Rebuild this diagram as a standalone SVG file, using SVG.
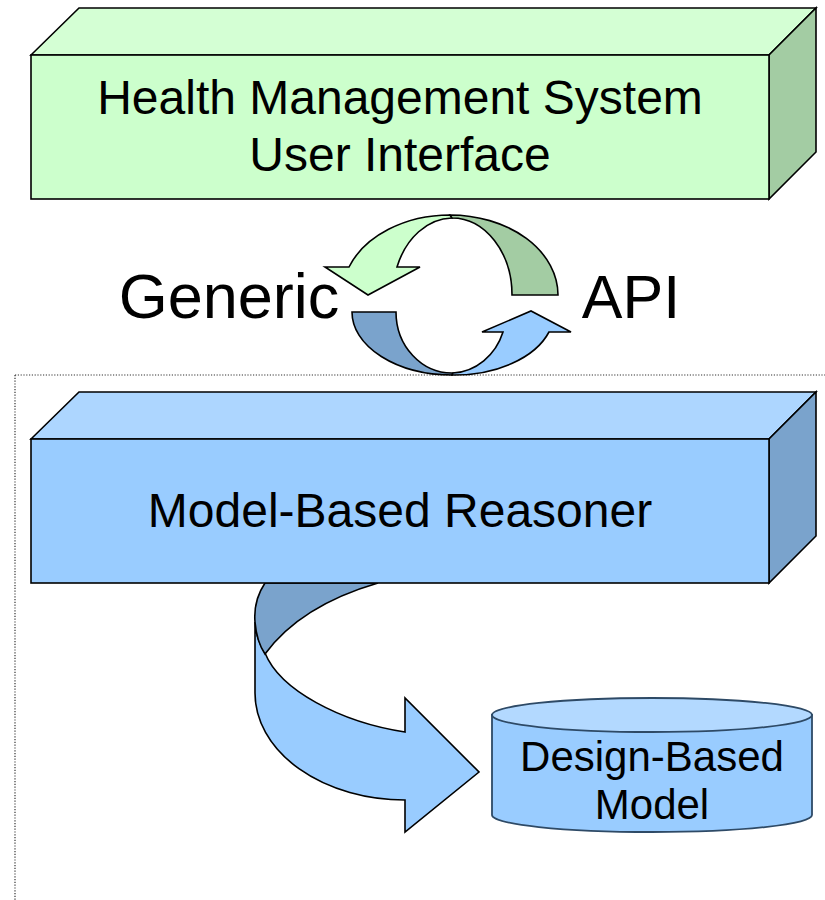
<svg xmlns="http://www.w3.org/2000/svg" width="825" height="900" viewBox="0 0 825 900">
  <style>
    .edge { stroke: #000; stroke-width: 1.6; stroke-linejoin: miter; }
    .label { font-family: "Liberation Sans", Arial, sans-serif; fill: #000; text-anchor: middle; }
    .dots { fill: none; stroke: #333; stroke-width: 1.2; stroke-dasharray: 1.2 1.6; }
    .g-front { fill: #CCFFCC; }
    .g-top { fill: #D4FFD4; }
    .g-side { fill: #A3CCA3; }
    .b-front { fill: #99CCFF; }
    .b-top { fill: #ADD6FF; }
    .b-side { fill: #7AA3CC; }
    .cyl { stroke: #2E4A66; stroke-width: 1.8; }
  </style>

  <rect width="825" height="900" fill="#fff"/>

  <!-- dotted boundary of the lower layer -->
  <path class="dots" d="M15,375 H825 M15,375 V900"/>

  <!-- connectors: the API exchange loop and the model-access arrow -->
  <g id="connectors">
    <!-- upper half of the loop: pointing down-left -->
    <path class="edge g-front" d="M349,267 A108 80 0 0 1 450,215 L452,218 A60 77 0 0 0 397,267 L420,267 L368,295 L325,267 Z"/>
    <path class="edge g-side" d="M450,215 A108 80 0 0 1 558,295 L512,295 A60 77 0 0 0 452,218 Z"/>
    <!-- lower half of the loop: pointing up-right -->
    <path class="edge b-side" d="M352,312 A100 63 0 0 0 452,375 L453,373 A56 61 0 0 1 396,312 Z"/>
    <path class="edge b-front" d="M452,375 A100 63 0 0 0 549,332 L571,332 L531,311 L482,332 L503,332 A56 61 0 0 1 453,373 Z"/>

    <!-- curved arrow from the reasoner down to the model -->
    <path class="edge b-front" d="M255,622 L255,693 A150 107 0 0 0 405,800 L405,832 L479,772 L405,698 L405,732 C340,722 280,690 265,653 C259,643 255,632 255,622 Z"/>
    <path class="edge b-side" d="M265,583 C257,595 254,610 255,622 C256,634 259,645 265,654 C290,620 330,597 378,583 Z"/>
  </g>

  <g id="api-labels">
    <text class="label" x="229" y="318" font-size="63">Generic</text>
    <text class="label" x="631" y="318" font-size="61">API</text>
  </g>

  <!-- user interface layer -->
  <g id="hms-ui">
    <polygon class="edge g-top" points="31,55 79,8 816,8 769,55"/>
    <polygon class="edge g-side" points="769,55 816,8 816,152 769,199"/>
    <rect class="edge g-front" x="31" y="55" width="738" height="144"/>
    <text class="label" x="400" y="114" font-size="48">Health Management System</text>
    <text class="label" x="400" y="171" font-size="48">User Interface</text>
  </g>

  <!-- reasoner layer -->
  <g id="reasoner">
    <polygon class="edge b-top" points="31,439 79,392 816,392 769,439"/>
    <polygon class="edge b-side" points="769,439 816,392 816,536 769,583"/>
    <rect class="edge b-front" x="31" y="439" width="738" height="144"/>
    <text class="label" x="400" y="527" font-size="48">Model-Based Reasoner</text>
  </g>

  <!-- model store -->
  <g id="design-model">
    <path class="cyl b-front" d="M492,715 V815 A160 17 0 0 0 812,815 V715 Z"/>
    <ellipse class="cyl" cx="652" cy="715" rx="160" ry="17" fill="#B3D9FF"/>
    <text class="label" x="652" y="771" font-size="42">Design-Based</text>
    <text class="label" x="652" y="819" font-size="42">Model</text>
  </g>
</svg>
